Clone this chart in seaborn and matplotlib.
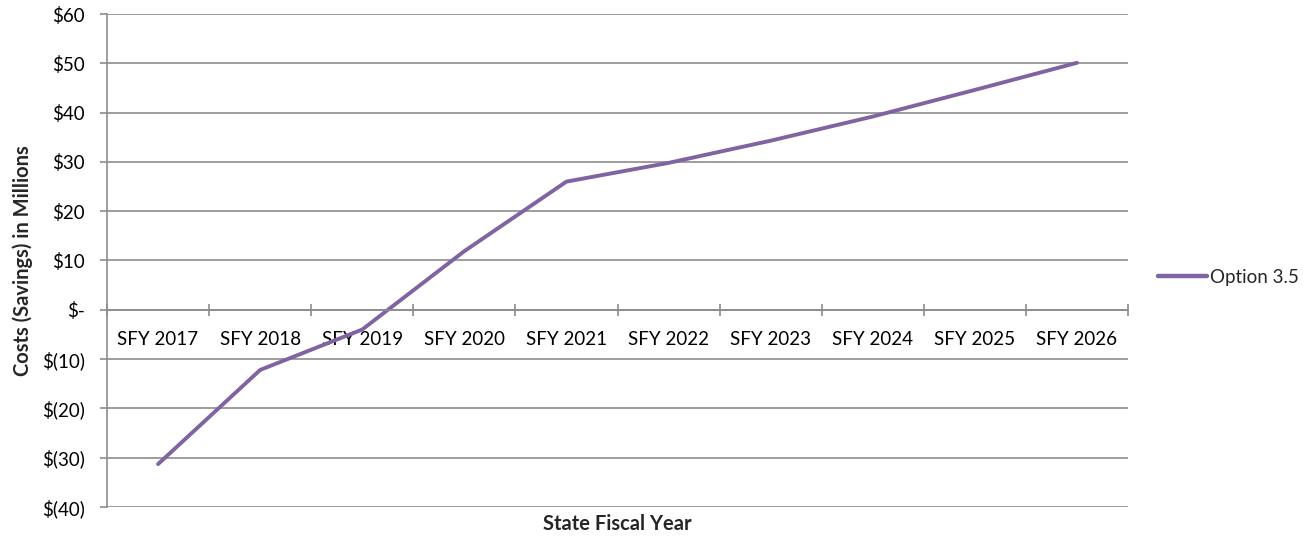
import matplotlib
matplotlib.use("Agg")
import matplotlib.pyplot as plt
import seaborn as sns
import pandas as pd
from matplotlib.ticker import FuncFormatter, FixedLocator

categories = ["SFY 2017", "SFY 2018", "SFY 2019", "SFY 2020", "SFY 2021",
              "SFY 2022", "SFY 2023", "SFY 2024", "SFY 2025", "SFY 2026"]
option_35 = [-31.3, -12.2, -4.0, 11.9, 26.0, 29.8, 34.3, 39.2, 44.6, 50.1]
series_name = "Option 3.5"
y_ticks = [-40, -30, -20, -10, 0, 10, 20, 30, 40, 50, 60]

sns.set_theme(style="white")
plt.rcParams['font.family'] = ['Lato', 'DejaVu Sans']

df = pd.DataFrame({"pos": range(len(categories)), "value": option_35,
                   "series": series_name})

fig = plt.figure(figsize=(13.13, 5.37), dpi=100)
ax = fig.add_axes([107/1313, 1-507/537, (1128-107)/1313, (507-14)/537])

grid_c = "#8c8c8c"
line_c = "#8064A2"
fs = 13.5

sns.lineplot(data=df, x="pos", y="value", hue="series", palette=[line_c],
             linewidth=2.8, ax=ax, legend=True)

ax.set_xlim(-0.5, len(categories) - 0.5)
ax.set_ylim(-40, 60)
ax.set_yticks(y_ticks)

def fmt(v, _):
    v = int(round(v))
    if v == 0:
        return "$-"
    if v < 0:
        return f"$({-v})"
    return f"${v}"
ax.yaxis.set_major_formatter(FuncFormatter(fmt))
ax.yaxis.grid(True, color=grid_c, linewidth=1.2)
ax.xaxis.grid(False)
ax.set_axisbelow(True)

for s in ["top", "right"]:
    ax.spines[s].set_visible(False)
ax.spines["left"].set_color(grid_c)
ax.spines["left"].set_linewidth(1.2)
ax.spines["bottom"].set_position(("data", 0))
ax.spines["bottom"].set_color(grid_c)
ax.spines["bottom"].set_linewidth(1.2)

ax.set_xticks(range(len(categories)))
ax.set_xticklabels(categories)
ax.xaxis.set_minor_locator(FixedLocator([i - 0.5 for i in range(len(categories) + 1)]))
ax.tick_params(axis="x", which="major", length=0, pad=15, labelsize=fs, colors="black")
ax.tick_params(axis="x", which="minor", length=9, direction="inout",
               color=grid_c, width=1.2, bottom=True)
ax.tick_params(axis="y", which="major", length=5, direction="out", color=grid_c,
               width=1.2, left=True, labelsize=fs, pad=11, colors="black")

ax.set_xlabel("State Fiscal Year", fontsize=14.5, fontweight="bold")
ax.set_ylabel("Costs (Savings) in Millions", fontsize=14.5, fontweight="bold")
ax.xaxis.set_label_coords(0.5, -0.015)
ax.yaxis.set_label_coords(-0.072, 0.5)

leg = ax.legend(loc="center left", bbox_to_anchor=(1158/1313, 1-277/537),
                bbox_transform=fig.transFigure, frameon=False, fontsize=fs,
                handlelength=2.6, handletextpad=0.15, borderaxespad=0, borderpad=0)
for h in leg.get_lines():
    h.set_linewidth(3.2)

fig.savefig("out.png", dpi=100)
